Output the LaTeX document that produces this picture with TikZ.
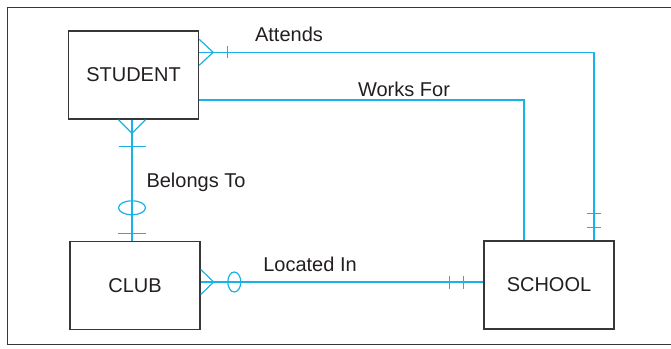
\documentclass[tikz,border=0pt]{standalone}
\usepackage{fontspec}
\setsansfont{Liberation Sans}
\usepackage{tikz}
\usetikzlibrary{calc, positioning}

\definecolor{ercyan}{RGB}{25,178,230}
\definecolor{boxgray}{RGB}{55,55,55}
\definecolor{txtgray}{RGB}{35,31,32}
\newcommand{\erfont}{\sffamily\fontsize{20}{24}\selectfont}

\begin{document}
\begin{tikzpicture}[x=1pt, y=-1pt,
    entity/.style={draw=boxgray, line width=1.4pt, minimum width=130pt,
                   minimum height=88pt, inner sep=0pt, text=txtgray, font=\erfont},
    rel/.style   ={draw=ercyan, line width=1.2pt},
    lbl/.style   ={text=txtgray, font=\erfont, inner sep=0pt}
  ]
  \useasboundingbox (0,0) rectangle (671,348);

  % Frame
  \draw[boxgray, line width=1.8pt] (673,7.5) -| (7.5,344.5) -- (673,344.5);

  % Entities
  \node[entity] (student) at (133.5,75)  {STUDENT};
  \node[entity] (club)    at (135,285.5) {CLUB};
  \node[entity] (school)  at (549,285)   {SCHOOL};

  % Attends
  \coordinate (att-s) at ([yshift=22.7pt]student.east);
  \coordinate (att-c) at ([xshift=45pt]school.north);
  \draw[rel] (att-s) -| (att-c);
  \draw[rel] ($(att-s)+(0,-13)$) -- ($(att-s)+(14,0)$) -- ($(att-s)+(0,13)$);
  \draw[rel] ($(att-s)+(28,-6)$) -- ($(att-s)+(28,6)$);
  \draw[rel] ($(att-c)+(-7,-13)$) -- ($(att-c)+(7,-13)$);
  \draw[rel] ($(att-c)+(-7,-26.5)$) -- ($(att-c)+(7,-26.5)$);
  \node[lbl] (attends) at (289,34) {Attends};

  % Works For
  \coordinate (wf-s) at ([yshift=-25pt]student.east);
  \coordinate (wf-c) at ([xshift=-25pt]school.north);
  \draw[rel] (wf-s) -| (wf-c);
  \node[lbl] (worksfor) at (404,89) {Works For};

  % Belongs To
  \coordinate (bt-s) at ([xshift=-1.5pt]student.south);
  \coordinate (bt-c) at (bt-s |- club.north);
  \draw[rel] (bt-s) -- (bt-c);
  \draw[rel] ($(bt-s)+(-13.5,0)$) -- ($(bt-s)+(0,13.5)$) -- ($(bt-s)+(13.5,0)$);
  \draw[rel] ($(bt-s)+(-13.5,27)$) -- ($(bt-s)+(13.5,27)$);
  \draw[rel] ($(bt-c)+(0,-33)$) ellipse [x radius=13.5pt, y radius=7pt];
  \draw[rel] ($(bt-c)+(-14,-7)$) -- ($(bt-c)+(14,-7)$);
  \node[lbl] (belongsto) at (196,182) {Belongs To};

  % Located In
  \coordinate (li-c) at ([yshift=3.5pt]club.east);
  \coordinate (li-s) at (li-c -| school.west);
  \draw[rel] (li-c) -- (li-s);
  \draw[rel] ($(li-c)+(0,-12.5)$) -- ($(li-c)+(13,0)$) -- ($(li-c)+(0,12.5)$);
  \draw[rel] ($(li-c)+(33.6,0)$) ellipse [x radius=6.5pt, y radius=10pt];
  \draw[rel] ($(li-s)+(-33.5,-6.5)$) -- ($(li-s)+(-33.5,6.5)$);
  \draw[rel] ($(li-s)+(-19.5,-6.5)$) -- ($(li-s)+(-19.5,6.5)$);
  \node[lbl] (locatedin) at (310,264) {Located In};
\end{tikzpicture}
\end{document}
